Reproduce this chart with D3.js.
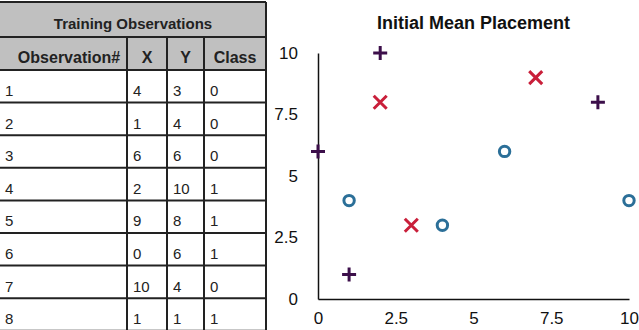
<!DOCTYPE html>
<html>
<head>
<meta charset="utf-8">
<script src="https://cdn.jsdelivr.net/npm/d3@7"></script>
<style>
  body { margin: 0; background: #fff; }
  svg { display: block; font-family: "Liberation Sans", Arial, Helvetica, sans-serif; }
</style>
</head>
<body>
<script>
// table data
const obsIds = [1, 2, 3, 4, 5, 6, 7, 8];
const obsX = [4, 1, 6, 2, 9, 0, 10, 1];
const obsY = [3, 4, 6, 10, 8, 6, 4, 1];
const obsClass = [0, 0, 0, 1, 1, 1, 0, 1];
const headers = ["Observation#", "X", "Y", "Class"];
const tableTitle = "Training Observations";

// initial means
const meanX = [2, 7, 3];
const meanY = [8, 9, 3];

// axis ticks
const ticks = [0, 2.5, 5, 7.5, 10];
const chartTitle = "Initial Mean Placement";

const width = 639;
const height = 330;

const svg = d3.select("body").append("svg")
    .attr("width", width)
    .attr("height", height);

// ---------- table ----------
const colEdges = [-1, 127, 167, 204, 266];
const tableTop = 2;
const titleH = 35;
const headH = 33;
const rowH = 32.6;
const bodyTop = tableTop + titleH + headH;

// gray header background
svg.append("rect")
    .attr("x", colEdges[0])
    .attr("y", tableTop)
    .attr("width", colEdges[4] - colEdges[0])
    .attr("height", titleH + headH)
    .attr("fill", "#c0c0c0");

svg.append("text")
    .attr("x", (0 + colEdges[4]) / 2)
    .attr("y", tableTop + 27)
    .attr("text-anchor", "middle")
    .style("font-size", "15px")
    .style("font-weight", "bold")
    .attr("fill", "#222")
    .text(tableTitle);

svg.selectAll(".head")
    .data(headers)
    .join("text")
    .attr("class", "head")
    .attr("x", (d, i) => i == 0 ? 69 : (colEdges[i] + colEdges[i + 1]) / 2)
    .attr("y", tableTop + titleH + 26)
    .attr("text-anchor", "middle")
    .style("font-size", "16px")
    .style("font-weight", "bold")
    .attr("fill", "#222")
    .text(d => d);

const rowY = d3.scaleLinear().domain([0, 1]).range([bodyTop, bodyTop + rowH]);

const rows = obsIds.map((id, i) => [id, obsX[i], obsY[i], obsClass[i]]);
rows.forEach((r, i) => {
    svg.selectAll(".cell" + i)
        .data(r)
        .join("text")
        .attr("x", (d, j) => colEdges[j] + 6)
        .attr("y", rowY(i) + 26)
        .style("font-size", "15px")
        .attr("fill", "#222")
        .text(d => d);
});

// horizontal lines
const hLines = [tableTop, tableTop + titleH, bodyTop].concat(obsIds.map((d, i) => rowY(i + 1)));
svg.selectAll(".hline")
    .data(hLines)
    .join("line")
    .attr("x1", colEdges[0])
    .attr("x2", colEdges[4])
    .attr("y1", d => d)
    .attr("y2", d => d)
    .attr("stroke", "#222")
    .attr("stroke-width", 2);

// vertical lines
svg.selectAll(".vline")
    .data(colEdges.slice(1))
    .join("line")
    .attr("x1", d => d)
    .attr("x2", d => d)
    .attr("y1", (d, i) => i == 3 ? tableTop : tableTop + titleH)
    .attr("y2", height)
    .attr("stroke", "#222")
    .attr("stroke-width", 2);

// ---------- scatter ----------
const xscale = d3.scaleLinear().domain([0, 10]).range([318, 629]);
const yscale = d3.scaleLinear().domain([0, 10]).range([299, 53]);

svg.append("text")
    .attr("x", (xscale.range()[0] + xscale.range()[1]) / 2)
    .attr("y", 29)
    .attr("text-anchor", "middle")
    .style("font-size", "18px")
    .style("font-weight", "bold")
    .attr("fill", "#111")
    .text(chartTitle);

const xAxis = svg.append("g")
    .attr("transform", "translate(0," + yscale(0) + ")")
    .call(d3.axisBottom(xscale).tickValues(ticks).tickSize(0)
        .tickFormat(d3.format("~g")));
const yAxis = svg.append("g")
    .attr("transform", "translate(" + xscale(0) + ",0)")
    .call(d3.axisLeft(yscale).tickValues(ticks).tickSize(0).tickPadding(20)
        .tickFormat(d3.format("~g")));

[xAxis, yAxis].forEach(a => {
    a.select(".domain").attr("stroke", "#111").attr("stroke-width", 1.5);
    a.selectAll("text")
        .style("font-size", "17px")
        .style("font-family", "'Liberation Sans', Arial, sans-serif")
        .attr("fill", "#111");
});
xAxis.selectAll("text").attr("dy", "0.71em").attr("y", 13);

const obs = obsIds.map((id, i) => ({x: obsX[i], y: obsY[i], c: obsClass[i]}));

// class 0: circles
svg.selectAll(".c0")
    .data(obs.filter(d => d.c == 0))
    .join("circle")
    .attr("cx", d => xscale(d.x))
    .attr("cy", d => yscale(d.y))
    .attr("r", 5.2)
    .attr("fill", "none")
    .attr("stroke", "#2b6f98")
    .attr("stroke-width", 3);

// class 1: plus
svg.selectAll(".c1")
    .data(obs.filter(d => d.c == 1))
    .join("path")
    .attr("transform", d => "translate(" + xscale(d.x) + "," + yscale(d.y) + ")")
    .attr("d", "M-7,0H7M0,-7V7")
    .attr("stroke", "#3c0f4a")
    .attr("stroke-width", 3)
    .attr("fill", "none");

// means: x marks
svg.selectAll(".mean")
    .data(meanX.map((x, i) => ({x: x, y: meanY[i]})))
    .join("path")
    .attr("transform", d => "translate(" + xscale(d.x) + "," + yscale(d.y) + ")")
    .attr("d", "M-6.5,-6.5L6.5,6.5M-6.5,6.5L6.5,-6.5")
    .attr("stroke", "#c91f3a")
    .attr("stroke-width", 3)
    .attr("fill", "none");
</script>
</body>
</html>
